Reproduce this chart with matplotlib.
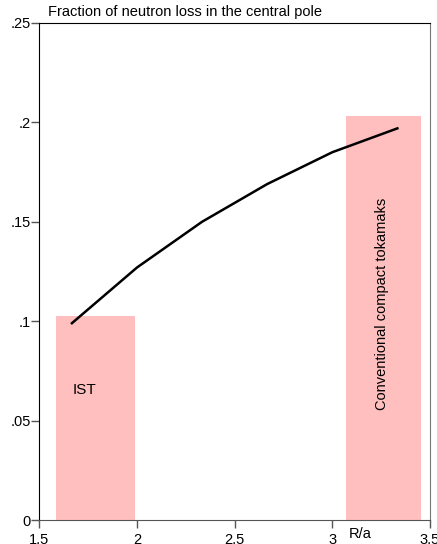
import matplotlib
matplotlib.use("Agg")
import matplotlib.pyplot as plt

plt.rcParams["font.family"] = ["Liberation Sans", "DejaVu Sans"]

# data
r_over_a = [1.667, 2.0, 2.333, 2.667, 3.0, 3.333]
loss_fraction = [0.099, 0.127, 0.150, 0.169, 0.185, 0.197]

band_labels = ["IST", "Conventional compact tokamaks"]
band_start = [1.585, 3.072]
band_end = [1.99, 3.456]
band_top = [0.1025, 0.2032]

x_ticks = [1.5, 2, 2.5, 3, 3.5]
x_tick_labels = ["1.5", "2", "2.5", "3", "3.5"]
y_ticks = [0, 0.05, 0.1, 0.15, 0.2, 0.25]
y_tick_labels = ["0", ".05", ".1", ".15", ".2", ".25"]

fig = plt.figure(figsize=(4.37, 5.44), dpi=100)
ax = fig.add_axes([39.3 / 437, 24 / 544, (430 - 39.3) / 437, 497 / 544])

for x0, x1, top in zip(band_start, band_end, band_top):
    ax.bar(x0, top, width=x1 - x0, align="edge", color="#ffbfbf", linewidth=0, zorder=1)

ax.plot(r_over_a, loss_fraction, color="black", linewidth=1.8, zorder=3)

ax.text(1.729, 0.0654, band_labels[0], fontsize=11, ha="center", va="center")
ax.text(3.255, 0.1087, band_labels[1], fontsize=10.5, ha="center", va="center",
        rotation=90)

ax.set_xlim(1.5, 3.5)
ax.set_ylim(0, 0.25)
ax.set_xticks(x_ticks)
ax.set_xticklabels(x_tick_labels, fontsize=10.5)
ax.set_yticks(y_ticks)
ax.set_yticklabels(y_tick_labels, fontsize=10.5)
ax.tick_params(axis="x", direction="out", length=6, width=1, color="#555555", pad=3)
ax.tick_params(axis="y", direction="out", length=6, width=1, color="#555555", pad=0)

ax.spines["left"].set_color("black")
ax.spines["top"].set_color("black")
ax.spines["right"].set_color("#777777")
ax.spines["bottom"].set_color("#555555")

ax.text(3.145, -0.0068, "R/a", fontsize=10.5, ha="center", va="center")
fig.text(48 / 437, 1 - 12 / 544, "Fraction of neutron loss in the central pole",
         fontsize=10.5, ha="left", va="center")

fig.savefig("out.png", dpi=100)
